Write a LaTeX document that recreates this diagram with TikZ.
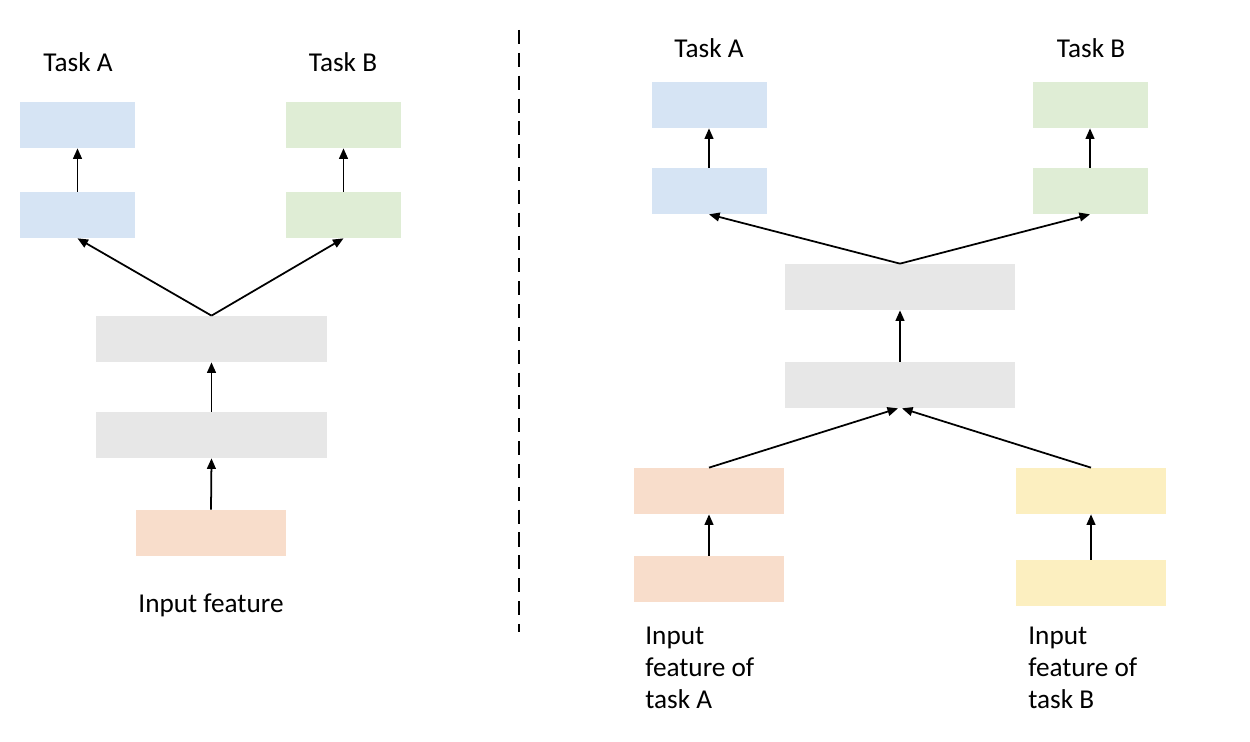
\documentclass[tikz,border=0pt]{standalone}
\usepackage{fontspec}
\setmainfont{Carlito}
\usetikzlibrary{arrows.meta}
\definecolor{cblue}{HTML}{D6E4F4}
\definecolor{cgreen}{HTML}{DFEDD5}
\definecolor{cgray}{HTML}{E7E7E7}
\definecolor{cpeach}{HTML}{F8DDCB}
\definecolor{cyellow}{HTML}{FCEFC0}
\tikzset{
  box/.style={rectangle, inner sep=0pt, draw=none, minimum height=0.92cm},
  nar/.style={box, minimum width=2.3cm},
  wid/.style={box, minimum width=4.62cm},
  mid/.style={box, minimum width=3.0cm},
  lbl/.style={inner sep=0pt, font=\fontsize{15.5}{18.1}\selectfont},
  arr/.style={line width=1pt, -{Triangle[length=6pt,width=5pt]}},
}
\begin{document}
\begin{tikzpicture}[x=0.02cm,y=-0.02cm]
\useasboundingbox (0,0) rectangle (1250,742);
% ---- left ----
\node[nar, fill=cblue] (la1) at (77.5,125) {};
\node[nar, fill=cgreen] (lb1) at (343.5,125) {};
\node[nar, fill=cblue] (la2) at (77.5,215) {};
\node[nar, fill=cgreen] (lb2) at (343.5,215) {};
\node[wid, fill=cgray] (lg1) at (211.5,339) {};
\node[wid, fill=cgray] (lg2) at (211.5,435) {};
\node[mid, fill=cpeach] (lin) at (211,533) {};
\node[lbl, anchor=base] (lta) at (78,72) {Task A};
\node[lbl, anchor=base] (ltb) at (343,72) {Task B};
\node[lbl, anchor=base] (lti) at (211,612) {Input feature};
\draw[arr] (la2.north) -- (la1.south);
\draw[arr] (lb2.north) -- (lb1.south);
\draw[arr] (lg1.north) -- (la2.south);
\draw[arr] (lg1.north) -- (lb2.south);
\draw[arr] (lg2.north) -- (lg1.south);
\draw[arr] (lin.north) -- (lg2.south);
% ---- divider ----
\coordinate (d1) at (519,30);
\coordinate (d2) at (519,632);
\draw[line width=0.85pt, dash pattern=on 8pt off 5pt] (d1) -- (d2);
% ---- right ----
\node[nar, fill=cblue] (ra1) at (709,105) {};
\node[nar, fill=cblue] (ra2) at (709,191) {};
\node[nar, fill=cgreen] (rb1) at (1090,105) {};
\node[nar, fill=cgreen] (rb2) at (1090,191) {};
\node[wid, fill=cgray] (rg1) at (900,287) {};
\node[wid, fill=cgray] (rg2) at (900,385) {};
\node[mid, fill=cpeach] (rp1) at (709,491) {};
\node[mid, fill=cpeach] (rp2) at (709,579) {};
\node[mid, fill=cyellow] (ry1) at (1091,491) {};
\node[mid, fill=cyellow] (ry2) at (1091,583) {};
\node[lbl, anchor=base] (rta) at (709,58) {Task A};
\node[lbl, anchor=base] (rtb) at (1091,58) {Task B};
\node[lbl, anchor=base west, align=left] (rla) at (645,708) {Input\\feature of\\task A};
\node[lbl, anchor=base west, align=left] (rlb) at (1028,708) {Input\\feature of\\task B};
\draw[arr] (ra2.north) -- (ra1.south);
\draw[arr] (rb2.north) -- (rb1.south);
\draw[arr] (rg1.north) -- (ra2.south);
\draw[arr] (rg1.north) -- (rb2.south);
\draw[arr] (rg2.north) -- (rg1.south);
\draw[arr] (rp1.north) -- ([xshift=-0.04cm]rg2.south);
\draw[arr] (ry1.north) -- ([xshift=0.04cm]rg2.south);
\draw[arr] (rp2.north) -- (rp1.south);
\draw[arr] (ry2.north) -- (ry1.south);
\end{tikzpicture}
\end{document}
